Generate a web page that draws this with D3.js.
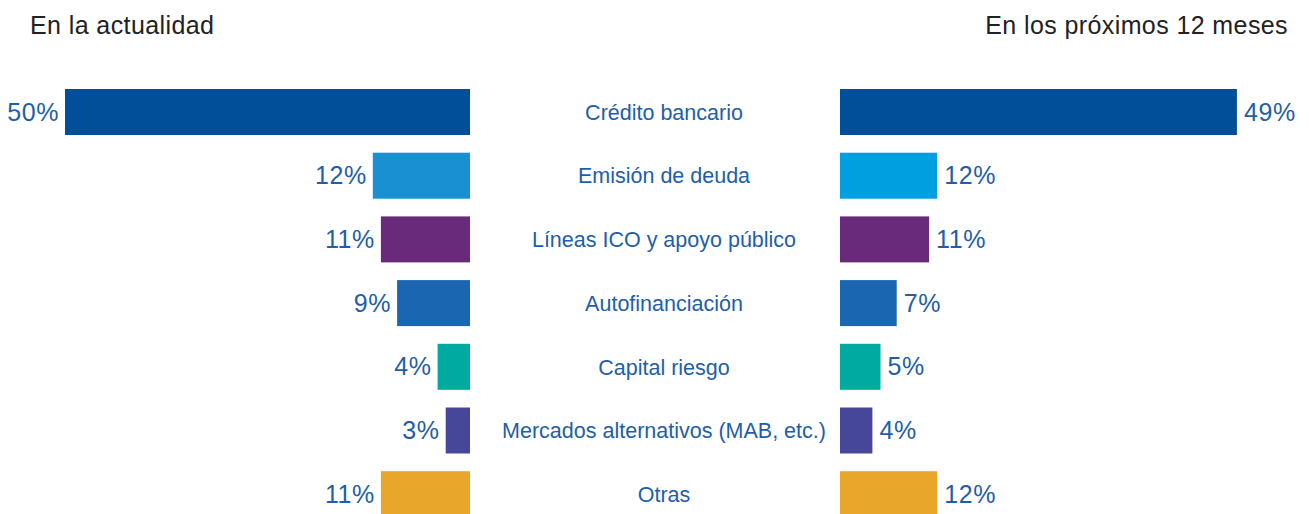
<!DOCTYPE html>
<html>
<head>
<meta charset="utf-8">
<script src="https://cdn.jsdelivr.net/npm/d3@7"></script>
<style>
  html, body { margin: 0; padding: 0; background: #fff; }
  svg { display: block; }
</style>
</head>
<body>
<svg id="chart" width="1309" height="514"></svg>
<script>
const categories = [
  "Crédito bancario",
  "Emisión de deuda",
  "Líneas ICO y apoyo público",
  "Autofinanciación",
  "Capital riesgo",
  "Mercados alternativos (MAB, etc.)",
  "Otras"
];
const valuesNow = [50, 12, 11, 9, 4, 3, 11];
const valuesNext = [49, 12, 11, 7, 5, 4, 12];
const colorsNow = ["#004f98", "#1890d2", "#6a2a7c", "#1a66b0", "#00aaa0", "#474799", "#e8a72b"];
const colorsNext = ["#004f98", "#009fdf", "#6a2a7c", "#1a66b0", "#00aaa0", "#474799", "#e8a72b"];
const titleNow = "En la actualidad";
const titleNext = "En los próximos 12 meses";

const svg = d3.select("#chart");
const FONT = "'Liberation Sans', Arial, sans-serif";
const TEXT_BLUE = "#1f5ea8";

const leftZero = 470, rightZero = 840, centerX = 664;
const x = d3.scaleLinear().domain([0, 50]).range([0, 405]);
const y = d3.scaleBand().domain(categories)
  .range([80.15, 526.05]).paddingInner(0.278).paddingOuter(0.139);

// Titles
svg.append("text").attr("x", 30).attr("y", 34)
  .attr("font-family", FONT).attr("font-size", 25).attr("letter-spacing", 0.4).attr("fill", "#222")
  .text(titleNow);
svg.append("text").attr("x", 1288).attr("y", 34).attr("text-anchor", "end")
  .attr("font-family", FONT).attr("font-size", 25).attr("letter-spacing", 0.4).attr("fill", "#222")
  .text(titleNext);

const rows = categories.map((c, i) => ({ c, now: valuesNow[i], next: valuesNext[i], cn: colorsNow[i], cx: colorsNext[i] }));

// Left bars
svg.append("g").selectAll("rect").data(rows).join("rect")
  .attr("x", d => leftZero - x(d.now)).attr("y", d => y(d.c))
  .attr("width", d => x(d.now)).attr("height", y.bandwidth())
  .attr("fill", d => d.cn);

// Right bars
svg.append("g").selectAll("rect").data(rows).join("rect")
  .attr("x", rightZero).attr("y", d => y(d.c))
  .attr("width", d => x(d.next)).attr("height", y.bandwidth())
  .attr("fill", d => d.cx);

// Left labels
svg.append("g").selectAll("text").data(rows).join("text")
  .attr("x", d => leftZero - x(d.now) - 6)
  .attr("y", d => y(d.c) + y.bandwidth() / 2)
  .attr("dy", "0.34em").attr("text-anchor", "end")
  .attr("font-family", FONT).attr("font-size", 25).attr("letter-spacing", 0.6).attr("fill", TEXT_BLUE)
  .text(d => d.now + "%");

// Right labels
svg.append("g").selectAll("text").data(rows).join("text")
  .attr("x", d => rightZero + x(d.next) + 7)
  .attr("y", d => y(d.c) + y.bandwidth() / 2)
  .attr("dy", "0.34em").attr("text-anchor", "start")
  .attr("font-family", FONT).attr("font-size", 25).attr("letter-spacing", 0.6).attr("fill", TEXT_BLUE)
  .text(d => d.next + "%");

// Category labels
svg.append("g").selectAll("text").data(rows).join("text")
  .attr("x", centerX)
  .attr("y", d => y(d.c) + y.bandwidth() / 2)
  .attr("dy", "0.36em").attr("text-anchor", "middle")
  .attr("font-family", FONT).attr("font-size", 21.5).attr("fill", TEXT_BLUE)
  .text(d => d.c);
</script>
</body>
</html>
